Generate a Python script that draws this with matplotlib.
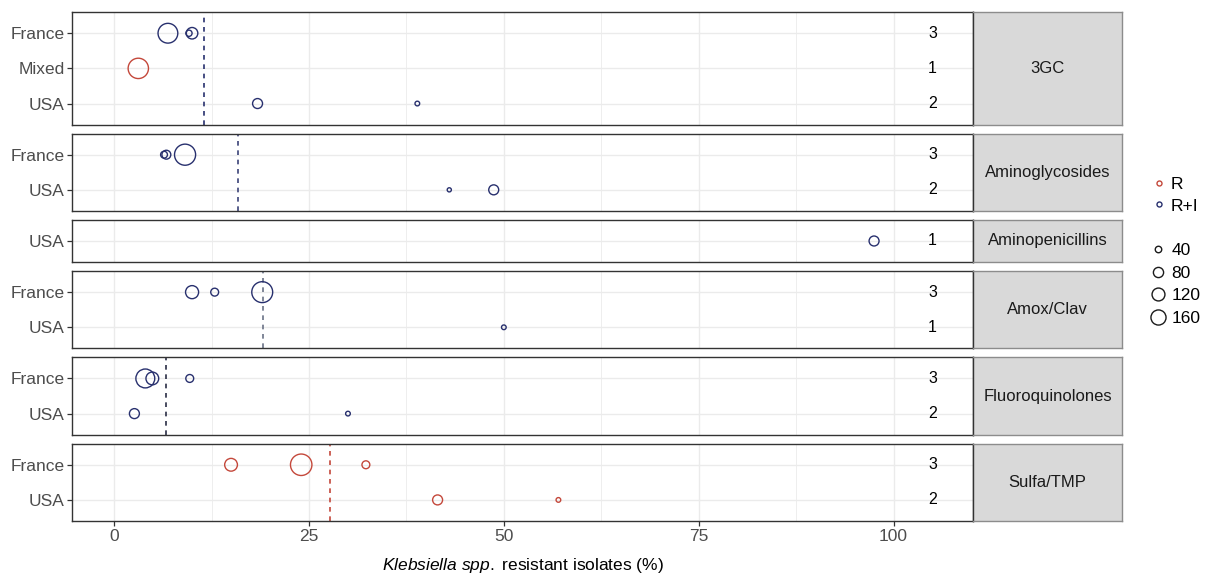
import matplotlib
matplotlib.use('Agg')
import matplotlib.pyplot as plt
import numpy as np
from matplotlib.lines import Line2D

plt.rcParams['font.family'] = ['Liberation Sans', 'DejaVu Sans']
plt.rcParams['mathtext.fontset'] = 'custom'
plt.rcParams['mathtext.rm'] = 'Liberation Sans'
plt.rcParams['mathtext.it'] = 'Liberation Sans:italic'

# panels (drug classes) and their rows
drug_classes = ['3GC', 'Aminoglycosides', 'Aminopenicillins', 'Amox/Clav', 'Fluoroquinolones', 'Sulfa/TMP']
countries = [['France', 'Mixed', 'USA'], ['France', 'USA'], ['USA'],
             ['France', 'USA'], ['France', 'USA'], ['France', 'USA']]
n_studies = [[3, 1, 2], [3, 2], [1], [3, 1], [3, 2], [3, 2]]

# single studies: class, country, % resistant, isolates, type
pt_class = ['3GC', '3GC', '3GC', '3GC', '3GC', '3GC',
            'Aminoglycosides', 'Aminoglycosides', 'Aminoglycosides', 'Aminoglycosides', 'Aminoglycosides',
            'Aminopenicillins',
            'Amox/Clav', 'Amox/Clav', 'Amox/Clav', 'Amox/Clav',
            'Fluoroquinolones', 'Fluoroquinolones', 'Fluoroquinolones', 'Fluoroquinolones', 'Fluoroquinolones',
            'Sulfa/TMP', 'Sulfa/TMP', 'Sulfa/TMP', 'Sulfa/TMP', 'Sulfa/TMP']
pt_country = ['France', 'France', 'France', 'Mixed', 'USA', 'USA',
              'France', 'France', 'France', 'USA', 'USA',
              'USA',
              'France', 'France', 'France', 'USA',
              'France', 'France', 'France', 'USA', 'USA',
              'France', 'France', 'France', 'USA', 'USA']
pt_value = [6.9, 9.6, 10.0, 3.1, 18.4, 38.9,
            6.4, 6.7, 9.1, 43.0, 48.7,
            97.5,
            10.0, 12.9, 19.0, 50.0,
            4.0, 4.9, 9.7, 2.6, 30.0,
            15.0, 24.0, 32.3, 41.5, 57.0]
pt_n = [265, 38, 98, 280, 77, 27,
        43, 64, 300, 24, 77,
        77,
        123, 53, 295, 27,
        243, 118, 53, 77, 27,
        118, 310, 53, 77, 27]
pt_type = ['R+I', 'R+I', 'R+I', 'R', 'R+I', 'R+I',
           'R+I', 'R+I', 'R+I', 'R+I', 'R+I',
           'R+I',
           'R+I', 'R+I', 'R+I', 'R+I',
           'R+I', 'R+I', 'R+I', 'R+I', 'R+I',
           'R', 'R', 'R', 'R', 'R']

# pooled value per class (dashed line)
pooled_value = [11.5, 15.9, None, 19.1, 6.6, 27.7]
pooled_type = ['R+I', 'R+I', None, 'R+I', 'R+I', 'R']
pooled_color = ['#28306E', '#3B4378', None, '#6A7286', '#2A2D45', '#C4483B']

colors = {'R': '#C4483B', 'R+I': '#28306E'}
size_breaks = [40, 80, 120, 160]


def size_pt(n):
    # circle diameter in pixels grows with sqrt of isolates, converted to points
    d_px = np.sqrt(np.maximum(1.55 * np.asarray(n, dtype=float) - 20, 16))
    return d_px * 0.72


fig = plt.figure(figsize=(12.15, 5.78), dpi=100)
heights = [len(c) + 0.2 for c in countries]
gs = fig.add_gridspec(6, 2, width_ratios=[901, 149], height_ratios=heights,
                      left=0.0593, right=0.9235, top=0.979, bottom=0.0986,
                      hspace=0.116, wspace=0)

for i, dc in enumerate(drug_classes):
    ax = fig.add_subplot(gs[i, 0])
    sax = fig.add_subplot(gs[i, 1])
    rows = countries[i]
    nr = len(rows)
    ypos = {c: nr - k for k, c in enumerate(rows)}

    ax.set_xlim(-5.4, 110.2)
    ax.set_ylim(0.4, nr + 0.6)
    ax.set_xticks([0, 25, 50, 75, 100])
    ax.set_xticks([12.5, 37.5, 62.5, 87.5], minor=True)
    ax.set_yticks([ypos[c] for c in rows])
    ax.set_yticklabels(rows)
    ax.grid(True, which='major', color='#EBEBEB', linewidth=1.0)
    ax.grid(True, which='minor', axis='x', color='#EBEBEB', linewidth=0.6)
    ax.set_axisbelow(True)
    for sp in ax.spines.values():
        sp.set_color('#333333')
        sp.set_linewidth(1.0)
    ax.tick_params(axis='both', which='major', length=3.5, width=0.9, color='#333333',
                   labelsize=12.5, labelcolor='#4D4D4D', pad=2)
    ax.tick_params(axis='x', which='minor', length=0)
    if i < len(drug_classes) - 1:
        ax.tick_params(axis='x', which='major', length=0, labelbottom=False)

    # single studies
    idx = [k for k in range(len(pt_class)) if pt_class[k] == dc]
    xs = [pt_value[k] for k in idx]
    ys = [ypos[pt_country[k]] for k in idx]
    ss = size_pt([pt_n[k] for k in idx]) ** 2
    ec = [colors[pt_type[k]] for k in idx]
    ax.scatter(xs, ys, s=ss, facecolors='none', edgecolors=ec, linewidths=1.0, zorder=3)

    # pooled line
    if pooled_value[i] is not None:
        ax.axvline(pooled_value[i], color=pooled_color[i], linestyle=(0, (2.8, 2.8)),
                   linewidth=1.2, zorder=2)

    # number of studies
    for c, ns in zip(rows, n_studies[i]):
        ax.text(105, ypos[c], str(ns), ha='center', va='center', fontsize=11.5, color='black')

    # strip
    sax.set_facecolor('#D9D9D9')
    sax.set_xticks([])
    sax.set_yticks([])
    for sp in sax.spines.values():
        sp.set_color('#8C8C8C')
        sp.set_linewidth(1.0)
    sax.spines['left'].set_color('#333333')
    sax.text(0.5, 0.5, dc, transform=sax.transAxes, ha='center', va='center',
             fontsize=12, color='#1A1A1A')

    if i == len(drug_classes) - 1:
        ax.set_xlabel('$\\it{Klebsiella\\ spp.}\\ $resistant isolates (%)', fontsize=12.5,
                      color='black', labelpad=9)

# legends
col_handles = [Line2D([], [], marker='o', linestyle='none', markersize=3.6,
                      markerfacecolor='none', markeredgecolor=colors[t], markeredgewidth=1.0)
               for t in ['R', 'R+I']]
leg1 = fig.legend(col_handles, ['R', 'R+I'], loc='center left', bbox_to_anchor=(0.941, 0.662),
                  frameon=False, fontsize=12.5, handlelength=0.8, handletextpad=0.3,
                  labelspacing=0.35, borderpad=0)
size_handles = [Line2D([], [], marker='o', linestyle='none', markersize=float(size_pt(b)),
                       markerfacecolor='none', markeredgecolor='#1A1A1A', markeredgewidth=1.0)
                for b in size_breaks]
leg2 = fig.legend(size_handles, [str(b) for b in size_breaks], loc='center left',
                  bbox_to_anchor=(0.939, 0.508), frameon=False, fontsize=12.5,
                  handlelength=1.0, handletextpad=0.25, labelspacing=0.42, borderpad=0)

fig.savefig('out.png', dpi=100)
